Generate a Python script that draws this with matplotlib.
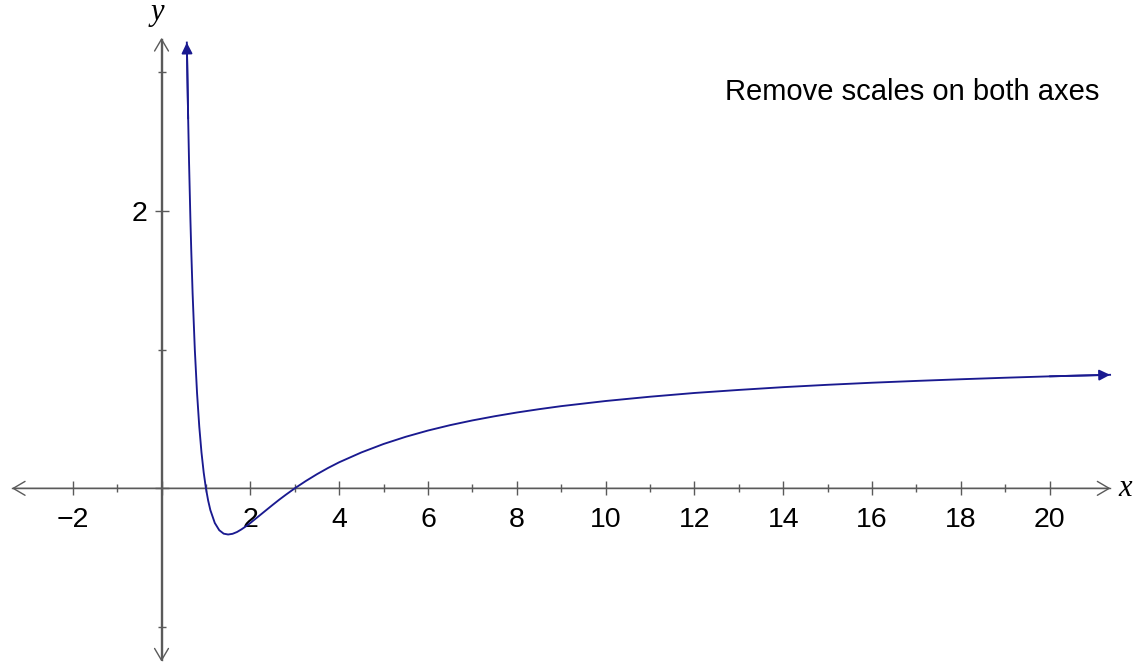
import matplotlib.pyplot as plt

plt.rcParams['font.family'] = ['Liberation Sans', 'DejaVu Sans']

# points
x_vals = [0.57, 0.6, 0.62, 0.65, 0.67, 0.7, 0.75, 0.8, 0.85, 0.9, 0.95, 1.0, 1.05, 1.1,
          1.2, 1.3, 1.4, 1.5, 1.6, 1.7, 1.8, 1.9, 2.0, 2.2, 2.35, 2.5, 2.65, 2.8, 3.0,
          3.25, 3.5, 3.75, 4, 4.5, 5, 5.5, 6, 6.5, 7, 7.5, 8, 8.5, 9, 10, 11, 12, 13,
          14, 15, 16, 17, 18, 19, 20, 21.36]
y_vals = [3.216, 2.667, 2.353, 1.947, 1.713, 1.408, 1.0, 0.688, 0.446, 0.259, 0.114, 0.0,
          -0.088, -0.157, -0.250, -0.302, -0.327, -0.333, -0.328, -0.315, -0.296, -0.274,
          -0.250, -0.198, -0.159, -0.120, -0.082, -0.046, 0.0, 0.053, 0.102, 0.147, 0.188,
          0.259, 0.320, 0.372, 0.417, 0.456, 0.490, 0.520, 0.547, 0.571, 0.593, 0.630,
          0.661, 0.688, 0.710, 0.730, 0.747, 0.762, 0.775, 0.787, 0.798, 0.808, 0.819]

x_major = [-2, 0, 2, 4, 6, 8, 10, 12, 14, 16, 18, 20]
x_labels = ['\u22122', '', '2', '4', '6', '8', '10', '12', '14', '16', '18', '20']
x_minor = [-1, 1, 3, 5, 7, 9, 11, 13, 15, 17, 19]
y_major = [0, 2]
y_labels = ['', '2']
y_minor = [-1, 1, 3]

axis_color = '#5a5a5a'
curve_color = '#1a1a90'

fig = plt.figure(figsize=(11.37, 6.63), dpi=100)
ax = fig.add_axes([0, 0, 1, 1])
ax.set_xlim(-3.637, 21.966)
ax.set_ylim(-1.260, 3.523)

for side in ['top', 'right']:
    ax.spines[side].set_visible(False)
ax.spines['left'].set_position(('data', 0))
ax.spines['bottom'].set_position(('data', 0))
ax.spines['left'].set_bounds(-1.24, 3.24)
ax.spines['bottom'].set_bounds(-3.36, 21.35)
for side in ['left', 'bottom']:
    ax.spines[side].set_color(axis_color)
    ax.spines[side].set_linewidth(1.0)

ax.set_xticks(x_major, x_labels)
ax.set_xticks(x_minor, minor=True)
ax.set_yticks(y_major, y_labels)
ax.set_yticks(y_minor, minor=True)
ax.tick_params(which='major', direction='inout', length=10, width=1,
               color=axis_color, labelsize=20.5, labelcolor='black')
ax.tick_params(which='minor', direction='inout', length=6, width=1, color=axis_color)
ax.tick_params(axis='x', which='major', pad=8.5)
ax.tick_params(axis='y', which='major', pad=5)

# open arrowheads on the axes
arrow_axis = dict(arrowstyle='<->,head_length=0.85,head_width=0.5', color=axis_color,
                  lw=1.0, shrinkA=0, shrinkB=0)
ax.annotate('', xy=(21.37, 0), xytext=(-3.37, 0), arrowprops=arrow_axis)
ax.annotate('', xy=(0, 3.25), xytext=(0, -1.25), arrowprops=arrow_axis)

# the curve with filled arrowheads at both ends
ax.plot(x_vals, y_vals, color=curve_color, lw=1.35, zorder=3)
arrow_curve = dict(arrowstyle='-|>', color=curve_color, lw=1.35,
                   shrinkA=0, shrinkB=0, mutation_scale=16)
ax.annotate('', xy=(x_vals[0], y_vals[0]), xytext=(x_vals[1], y_vals[1]), arrowprops=arrow_curve)
ax.annotate('', xy=(x_vals[-1], y_vals[-1]), xytext=(x_vals[-2], y_vals[-2]), arrowprops=arrow_curve)

ax.text(21.55, 0, 'x', fontsize=22, family='Liberation Serif', style='italic',
        ha='left', va='center')
ax.text(-0.1, 3.33, 'y', fontsize=22, family='Liberation Serif', style='italic',
        ha='center', va='bottom')

fig.text(725 / 1137, 1 - 100 / 663, 'Remove scales on both axes', fontsize=21,
         ha='left', va='baseline')

plt.savefig('out.png', dpi=100)
